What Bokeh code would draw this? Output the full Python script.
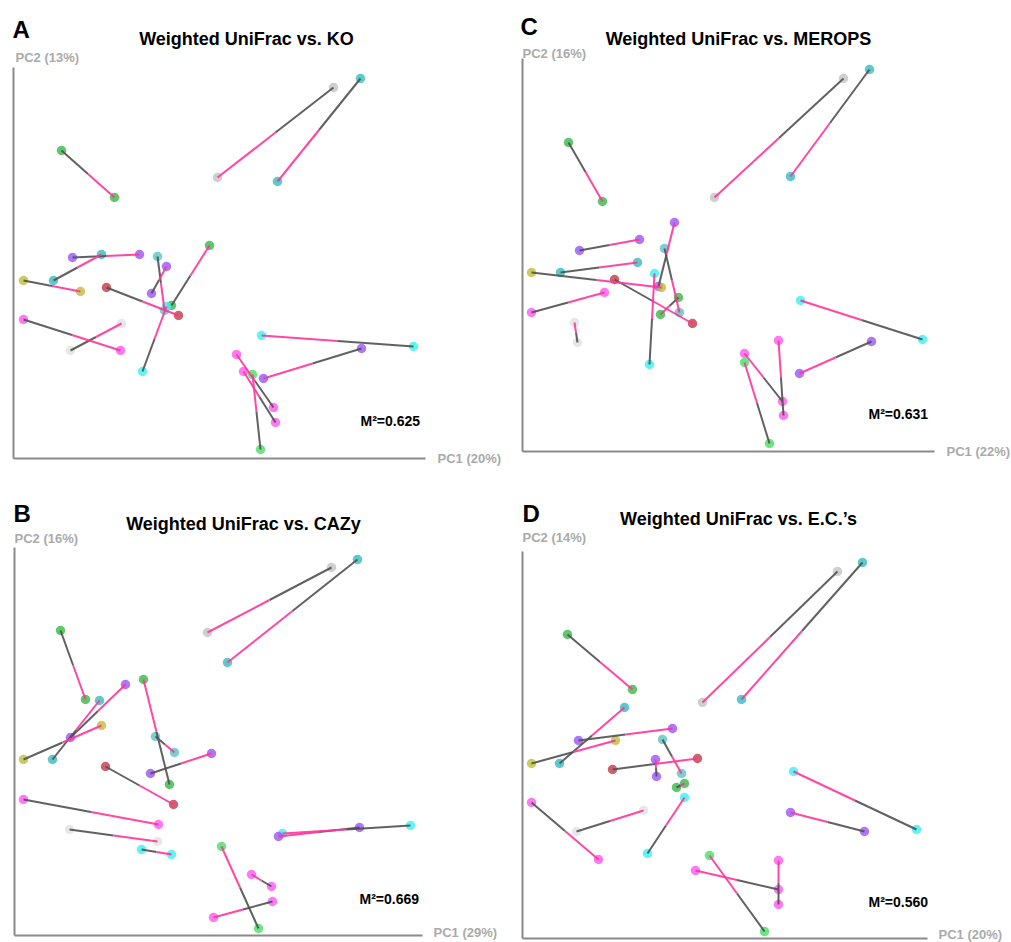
from bokeh.plotting import figure
from bokeh.layouts import column, row
from bokeh.models import Range1d, Label, FixedTicker
from bokeh.embed import file_html
from bokeh.resources import INLINE

# ---------------- data ----------------
sample_colors = ["#c4c4c4", "#3bbcc0", "#3cb94a", "#9b59f5", "#3bbcc0", "#bfbf3f",
                 "#c0404c", "#5fc4c4", "#9b59f5", "#3cb94a", "#3ff0f0", "#ff5cf0",
                 "#e2e2e2", "#3ff0f0", "#9b59f5", "#ff5cf0", "#ff5cf0", "#4ddf6a"]

# Panel A: Weighted UniFrac (u) vs. KO (o)
ko_ux = [320, 347, 48, 59, 40, 10, 93, 144, 138, 158, 129, 10, 57, 400, 348, 260, 262, 247]
ko_uy = [371, 380, 308, 201, 178, 178, 171, 202, 165, 153, 87, 139, 108, 112, 110, 51, 36, 9]
ko_ox = [204, 264, 101, 126, 88, 67, 165, 151, 153, 196, 153, 107, 108, 248, 250, 223, 230, 239]
ko_oy = [281, 277, 261, 204, 204, 167, 143, 148, 192, 213, 152, 108, 135, 123, 80, 104, 87, 84]

# Panel B: Weighted UniFrac vs. CAZy
cazy_ux = [317, 343, 46, 56, 38, 9, 91, 141, 136, 155, 127, 9, 55, 396, 345, 257, 258, 244]
cazy_uy = [368, 376, 305, 198, 176, 176, 169, 199, 162, 151, 86, 136, 106, 110, 108, 49, 34, 7]
cazy_ox = [193, 213, 71, 111, 85, 87, 159, 160, 197, 129, 157, 144, 143, 268, 264, 237, 199, 207]
cazy_oy = [303, 273, 236, 251, 235, 210, 131, 183, 182, 256, 81, 111, 94, 102, 99, 61, 18, 89]

# Panel C: Weighted UniFrac vs. MEROPS
merops_ux = [321, 347, 46, 57, 38, 9, 92, 142, 136, 156, 127, 9, 55, 400, 349, 260, 261, 247]
merops_uy = [373, 382, 309, 201, 179, 179, 172, 203, 165, 154, 87, 139, 109, 112, 110, 50, 36, 8]
merops_ox = [192, 268, 80, 117, 115, 139, 170, 157, 152, 138, 132, 82, 52, 278, 277, 222, 256, 222]
merops_oy = [254, 275, 250, 212, 189, 164, 128, 139, 229, 137, 178, 159, 129, 151, 78, 98, 111, 89]

# Panel D: Weighted UniFrac vs. E.C.'s
ec_ux = [315, 340, 45, 56, 37, 9, 90, 140, 134, 154, 125, 9, 54, 394, 342, 256, 256, 242]
ec_uy = [367, 376, 304, 198, 175, 175, 169, 199, 162, 151, 85, 136, 107, 109, 107, 49, 34, 7]
ec_ox = [180, 219, 110, 150, 102, 93, 175, 159, 133, 162, 162, 76, 121, 271, 268, 173, 256, 187]
ec_oy = [236, 239, 249, 210, 231, 198, 180, 165, 179, 155, 141, 79, 128, 167, 126, 68, 78, 83]

FONT = "Liberation Sans"
GRAY_LINE = "#505050"
PINK_LINE = "#ff3399"


def make_panel(ux, uy, ox, oy, letter, title, pc1, pc2, m2,
               W, H, xr, yr, fw, fh, pos):
    p = figure(width=W, height=H, x_range=Range1d(*xr), y_range=Range1d(*yr),
               output_backend="svg", toolbar_location=None, tools="", title=None,
               min_border=0, min_border_left=0, min_border_right=0,
               min_border_top=0, min_border_bottom=0)
    p.grid.visible = False
    p.outline_line_color = None
    p.background_fill_color = "white"
    p.border_fill_color = "white"
    for ax, b in ((p.xaxis[0], fw), (p.yaxis[0], fh)):
        ax.fixed_location = 0
        ax.bounds = (0, b)
        ax.ticker = FixedTicker(ticks=[])
        ax.major_tick_out = 0
        ax.major_tick_in = 0
        ax.minor_tick_out = 0
        ax.minor_tick_in = 0
        ax.major_label_text_font_size = "0px"
        ax.major_label_standoff = 0
        ax.axis_line_color = "#8a8a8a"
        ax.axis_line_width = 2

    mx = [(a + b) / 2 for a, b in zip(ux, ox)]
    my = [(a + b) / 2 for a, b in zip(uy, oy)]

    p.scatter(ux, uy, size=9.5, fill_color=sample_colors, fill_alpha=0.82, line_color=None)
    p.scatter(ox, oy, size=9.5, fill_color=sample_colors, fill_alpha=0.82, line_color=None)
    p.segment(ux, uy, mx, my, line_color=GRAY_LINE, line_width=2, line_alpha=0.9)
    p.segment(mx, my, ox, oy, line_color=PINK_LINE, line_width=2, line_alpha=0.9)

    def lab(text, xy, size, color="black", align="left"):
        p.add_layout(Label(x=xy[0], y=xy[1], text=text, text_font=FONT,
                           text_font_style="bold", text_font_size=size,
                           text_color=color, text_align=align,
                           text_baseline="alphabetic"))

    lab(letter, pos["letter"], "24px")
    lab(title, pos["title"], "18px", align="center")
    lab(pc2, pos["pc2"], "13px", color="#aaaaaa")
    lab(pc1, pos["pc1"], "13px", color="#aaaaaa")
    lab(m2, pos["m2"], "14px")
    return p


pA = make_panel(ko_ux, ko_uy, ko_ox, ko_oy, "A", "Weighted UniFrac vs. KO",
                "PC1 (20%)", "PC2 (13%)", "M\u00b2=0.625",
                W=505, H=470, xr=(-13, 492), yr=(-12, 458), fw=412, fh=391,
                pos=dict(letter=(-1, 429), title=(233, 420), pc2=(2, 401),
                         pc1=(424, 0), m2=(347, 38)))
pC = make_panel(merops_ux, merops_uy, merops_ox, merops_oy, "C",
                "Weighted UniFrac vs. MEROPS", "PC1 (22%)", "PC2 (16%)", "M\u00b2=0.631",
                W=505, H=470, xr=(-17, 488), yr=(-19, 451), fw=412, fh=393,
                pos=dict(letter=(-2, 425), title=(216, 413), pc2=(0, 398),
                         pc1=(424, 0), m2=(346, 38)))
pB = make_panel(cazy_ux, cazy_uy, cazy_ox, cazy_oy, "B", "Weighted UniFrac vs. CAZy",
                "PC1 (29%)", "PC2 (16%)", "M\u00b2=0.669",
                W=505, H=472, xr=(-7, 491), yr=(-7, 465), fw=408, fh=388,
                pos=dict(letter=(-1, 422), title=(229, 412), pc2=(0, 397),
                         pc1=(419, 3), m2=(345, 37)))
pB.x_range.start = -14
pD = make_panel(ec_ux, ec_uy, ec_ox, ec_oy, "D", "Weighted UniFrac vs. E.C.\u2019s",
                "PC1 (20%)", "PC2 (14%)", "M\u00b2=0.560",
                W=505, H=472, xr=(-17, 488), yr=(-4, 468), fw=405, fh=387,
                pos=dict(letter=(0, 425), title=(216, 420), pc2=(0, 401),
                         pc1=(416, 4), m2=(346, 37)))

layout = column(row(pA, pC), row(pB, pD))
open("out.html", "w").write(file_html(layout, INLINE))
